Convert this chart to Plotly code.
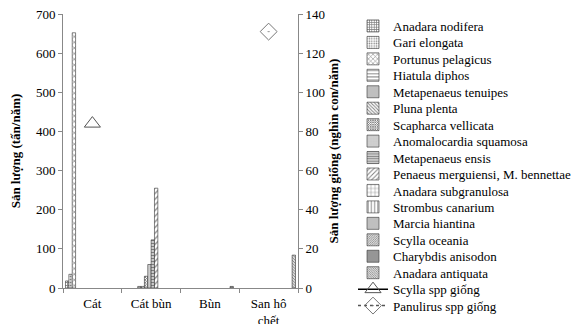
import plotly.graph_objects as go

categories = ["Cát", "Cát bùn", "Bùn", "San hô<br>chết"]

bar_names = [
    "Anadara nodifera", "Gari elongata", "Portunus pelagicus", "Hiatula diphos",
    "Metapenaeus tenuipes", "Pluna plenta", "Scapharca vellicata",
    "Anomalocardia squamosa", "Metapenaeus ensis", "Penaeus merguiensi, M. bennettae",
    "Anadara subgranulosa", "Strombus canarium", "Marcia hiantina", "Scylla oceania",
    "Charybdis anisodon", "Anadara antiquata",
]

# values in tonnes/year per habitat: Cát, Cát bùn, Bùn, San hô chết
anadara_nodifera = [18, None, None, None]
gari_elongata = [35, None, None, None]
portunus_pelagicus = [652, None, None, None]
hiatula_diphos = [None, None, None, None]
metapenaeus_tenuipes = [None, 4, None, None]
pluna_plenta = [None, 4, None, None]
scapharca_vellicata = [None, 30, None, None]
anomalocardia_squamosa = [None, 60, None, None]
metapenaeus_ensis = [None, 123, None, None]
penaeus_merguiensi = [None, 255, None, None]
anadara_subgranulosa = [None, None, None, None]
strombus_canarium = [None, None, None, None]
marcia_hiantina = [None, None, None, None]
scylla_oceania = [None, None, None, None]
charybdis_anisodon = [None, None, 4, None]
anadara_antiquata = [None, None, None, 84]

bar_values = [
    anadara_nodifera, gari_elongata, portunus_pelagicus, hiatula_diphos,
    metapenaeus_tenuipes, pluna_plenta, scapharca_vellicata, anomalocardia_squamosa,
    metapenaeus_ensis, penaeus_merguiensi, anadara_subgranulosa, strombus_canarium,
    marcia_hiantina, scylla_oceania, charybdis_anisodon, anadara_antiquata,
]

# seed production (thousand individuals/year)
scylla_giong = [84, None, None, None]
panulirus_giong = [None, None, None, 131]

patterns = [
    dict(shape="+", size=3, solidity=0.5),
    dict(shape=".", size=3, solidity=0.3),
    dict(shape="x", size=4, solidity=0.3),
    dict(shape="-", size=4, solidity=0.3),
    dict(shape="|", size=2, solidity=0.5),
    dict(shape="\\", size=3, solidity=0.4),
    dict(shape="x", size=2, solidity=0.7),
    dict(shape=".", size=2, solidity=0.4),
    dict(shape="-", size=3, solidity=0.6),
    dict(shape="/", size=4, solidity=0.3),
    dict(shape="+", size=5, solidity=0.2),
    dict(shape="|", size=4, solidity=0.3),
    dict(shape="-", size=2, solidity=0.5),
    dict(shape="/", size=2, solidity=0.5),
    dict(shape=".", size=2, solidity=0.8),
    dict(shape="\\", size=2, solidity=0.5),
]

font = "Liberation Serif, Times New Roman, serif"

# the page body adds an 8px offset, so the figure is sized to fit inside the window
W, H = 571, 316
ML, MR, MT, MB = 55, 281, 6, 36
plot_w = W - ML - MR
plot_h = H - MT - MB

def legend_name(i):
    return "legend" if i == 0 else f"legend{i + 1}"

# clustered layout: every series keeps its slot in each category (Excel style)
n_series = len(bar_names)
gap = 0.085
slot = (1 - gap) / n_series

fig = go.Figure()
for i, (name, vals, pat) in enumerate(zip(bar_names, bar_values, patterns)):
    fig.add_trace(go.Bar(
        x=categories, y=vals, name=name, legend=legend_name(i),
        width=slot, offset=-0.5 + gap / 2 + i * slot,
        marker=dict(color="white", line=dict(color="#333", width=0.6),
                    pattern=dict(fgcolor="black", bgcolor="white", **pat)),
    ))

fig.add_trace(go.Scatter(
    x=categories, y=scylla_giong, name="Scylla spp giống", yaxis="y2",
    legend=legend_name(16),
    mode="lines+markers", line=dict(color="black", width=1.5),
    marker=dict(symbol="triangle-up-open", size=14, color="#555", line=dict(width=1)),
))
fig.add_trace(go.Scatter(
    x=categories, y=panulirus_giong, name="Panulirus spp giống", yaxis="y2",
    legend=legend_name(17),
    mode="lines+markers", line=dict(color="#555", width=1.5, dash="dot"),
    marker=dict(symbol="diamond-open-dot", size=13, color="#777", line=dict(width=1)),
))

# one single-item legend per entry so the rows sit as tightly as in the reference
row_first, row_step = 18.0, 16.45
legends = {}
for i in range(18):
    ypx = row_first + row_step * i
    legends[legend_name(i)] = dict(
        x=(345 - ML) / plot_w, xanchor="left",
        y=(H - MB - ypx) / plot_h, yanchor="middle",
        font=dict(family=font, size=13), itemwidth=30,
        bgcolor="rgba(0,0,0,0)", borderwidth=0,
    )

fig.update_layout(
    width=W, height=H,
    margin=dict(l=ML, r=MR, t=MT, b=MB, autoexpand=False),
    plot_bgcolor="white", paper_bgcolor="white",
    barmode="overlay",
    font=dict(family=font, size=13, color="black"),
    showlegend=True,
    xaxis=dict(type="category", tickson="boundaries", ticks="outside", ticklen=4,
               showline=True, linecolor="#888", tickcolor="#888", automargin=False,
               ticklabelstandoff=3, range=[-0.5, 3.5],
               tickfont=dict(family=font, size=13), showgrid=False),
    yaxis=dict(range=[0, 700], dtick=100, ticks="outside", ticklen=4,
               showline=True, linecolor="#888", tickcolor="#888", showgrid=False,
               zeroline=False, automargin=True, ticklabeloverflow="allow",
               tickfont=dict(family=font, size=13),
               title=dict(text="<b>Sản lượng (tấn/năm)</b>", font=dict(family=font, size=13), standoff=30)),
    yaxis2=dict(range=[0, 140], dtick=20, overlaying="y", side="right", ticks="outside",
                ticklen=4, showline=True, linecolor="#888", tickcolor="#888",
                showgrid=False, zeroline=False, automargin=True, ticklabeloverflow="allow",
                tickfont=dict(family=font, size=13),
                title=dict(text="<b>Sản lượng giống (nghìn con/năm)</b>", font=dict(family=font, size=13), standoff=4)),
    **legends,
)

fig.write_html("out.html")
